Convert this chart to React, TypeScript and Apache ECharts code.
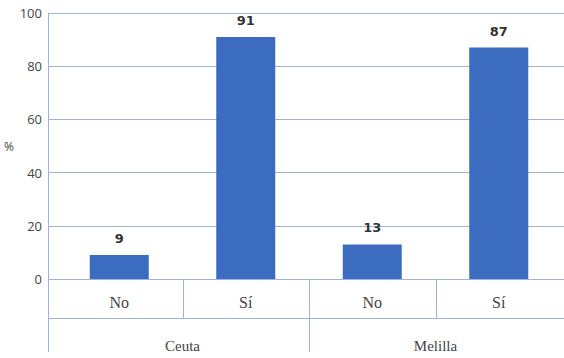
import React, { useEffect, useRef } from "react";
import * as echarts from "echarts";

const categories = ["No", "Sí", "No", "Sí"];
const groups = ["Ceuta", "Melilla"];
const values = [9, 91, 13, 87];
const yMin = 0;
const yMax = 100;
const yInterval = 20;
const yName = "%";

const W = 564;
const H = 358;
const AXIS_X = 48;
const PLOT_LEFT = 56;
const PLOT_RIGHT = 2;
const TOP = 13;
const BOTTOM = 79;
const ZERO_Y = H - BOTTOM;
const ROW1 = 39;
const TABLE_BOTTOM = 352;

const LINE = "#9bb4de";
const BAR = "#3c6cbf";
const TEXT = "#444";

export default function App() {
  const ref = useRef<HTMLDivElement>(null);
  useEffect(() => {
    if (!ref.current) return;
    const chart = echarts.init(ref.current, null, { renderer: "svg" });
    const bandW = (W - PLOT_LEFT - PLOT_RIGHT) / categories.length;
    const perGroup = categories.length / groups.length;
    const dividers: any[] = [];
    for (let i = 1; i < categories.length; i++) {
      const x = Math.round(PLOT_LEFT + bandW * i) + 0.5;
      const isGroup = i % perGroup === 0;
      dividers.push({
        type: "line",
        shape: { x1: x, y1: ZERO_Y, x2: x, y2: isGroup ? TABLE_BOTTOM : ZERO_Y + ROW1 },
        style: { stroke: LINE, lineWidth: 1 },
      });
    }
    chart.setOption({
      animation: false,
      backgroundColor: "#ffffff",
      grid: [
        { left: AXIS_X, right: 0, top: TOP, bottom: BOTTOM },
        { left: PLOT_LEFT, right: PLOT_RIGHT, top: TOP, bottom: BOTTOM },
      ],
      xAxis: [
        { type: "category", gridIndex: 0, data: categories, show: false },
        {
          type: "category",
          gridIndex: 1,
          data: categories,
          axisLine: { show: false },
          axisTick: { show: false },
          axisLabel: {
            margin: 15,
            fontFamily: "Liberation Serif",
            fontSize: 16,
            color: TEXT,
          },
        },
        {
          type: "category",
          gridIndex: 1,
          data: groups,
          position: "bottom",
          axisLine: { show: false },
          axisTick: { show: false },
          axisLabel: {
            margin: 59,
            fontFamily: "Liberation Serif",
            fontSize: 15,
            color: TEXT,
          },
        },
      ],
      yAxis: [
        {
          type: "value",
          gridIndex: 0,
          min: yMin,
          max: yMax,
          interval: yInterval,
          name: yName,
          nameLocation: "middle",
          nameGap: 27,
          nameRotate: 0,
          nameTextStyle: {
            fontFamily: "Open Sans",
            fontSize: 12,
            color: TEXT,
            align: "center",
            padding: [0, 0, 8, 0],
          },
          axisLine: { show: true, lineStyle: { color: LINE, width: 1 } },
          axisTick: { show: false },
          splitLine: { show: true, lineStyle: { color: LINE, width: 1 } },
          axisLabel: {
            margin: 6,
            fontFamily: "Open Sans",
            fontSize: 13,
            color: TEXT,
          },
        },
        {
          type: "value",
          gridIndex: 1,
          min: yMin,
          max: yMax,
          interval: yInterval,
          show: false,
        },
      ],
      series: [
        {
          type: "bar",
          xAxisIndex: 1,
          yAxisIndex: 1,
          data: values,
          barWidth: 59,
          itemStyle: { color: BAR },
          label: {
            show: true,
            position: "top",
            distance: 10,
            fontFamily: "DejaVu Sans",
            fontWeight: "bold",
            fontSize: 13,
            color: "#333",
          },
        },
      ],
      graphic: [
        {
          type: "line",
          shape: { x1: AXIS_X + 0.5, y1: ZERO_Y, x2: AXIS_X + 0.5, y2: TABLE_BOTTOM },
          style: { stroke: LINE, lineWidth: 1 },
        },
        {
          type: "line",
          shape: { x1: AXIS_X, y1: ZERO_Y + ROW1 + 0.5, x2: W, y2: ZERO_Y + ROW1 + 0.5 },
          style: { stroke: LINE, lineWidth: 1 },
        },
        ...dividers,
      ],
    });
    return () => chart.dispose();
  }, []);
  return (
    <div
      ref={ref}
      style={{ position: "fixed", left: 0, top: 0, width: W, height: H }}
    />
  );
}
